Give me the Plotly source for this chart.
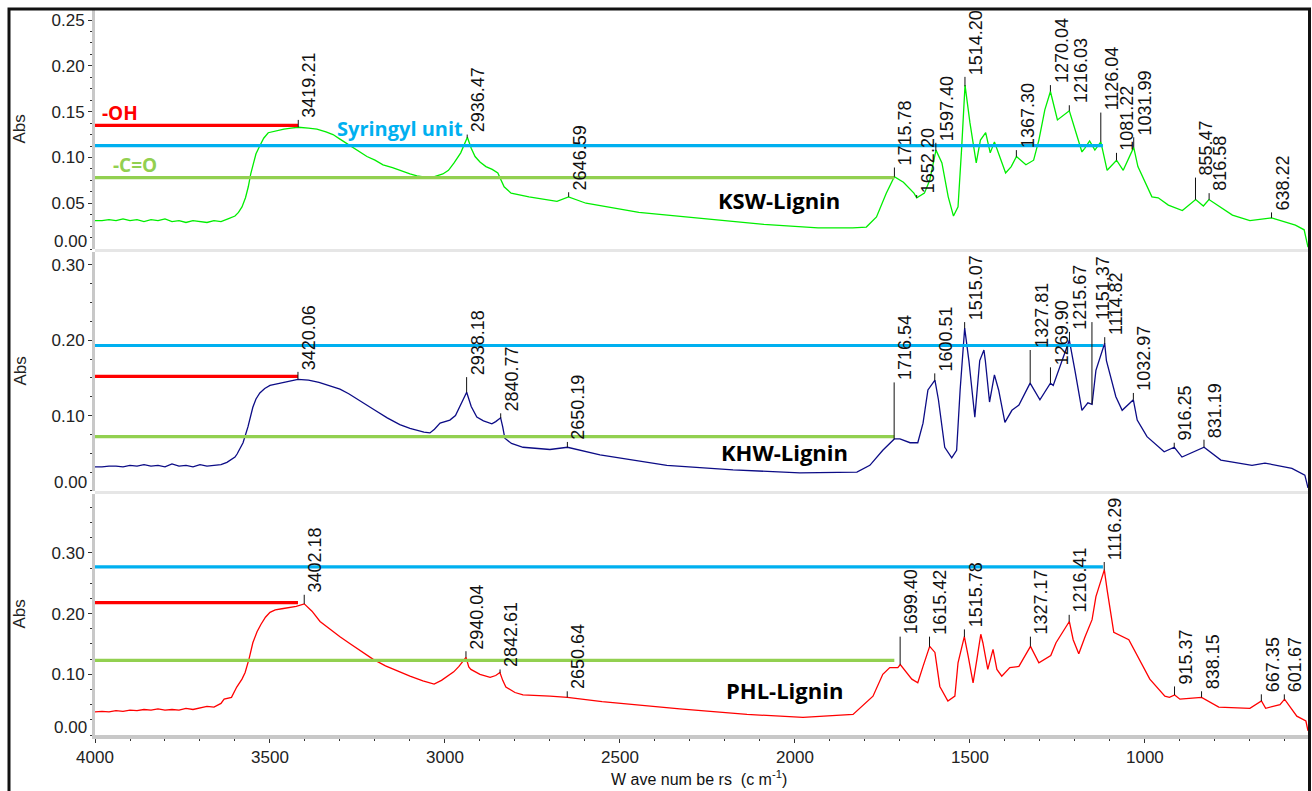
import numpy as np
import plotly.graph_objects as go

# ---------------- DATA ----------------
ksw_wn = [4000, 3980, 3960, 3940, 3920, 3900, 3880, 3860, 3840, 3820, 3800, 3780, 3760, 3740, 3720, 3700,
          3680, 3660, 3640, 3620, 3600, 3590, 3580, 3570, 3562, 3555, 3548, 3540, 3530, 3518, 3505, 3485,
          3460, 3440, 3419, 3390, 3366, 3340, 3320, 3300, 3280, 3250, 3223, 3200, 3177, 3150, 3129, 3100,
          3080, 3060, 3046, 3030, 3006, 2990, 2974, 2955, 2936, 2925, 2914, 2900, 2883, 2865, 2849, 2831,
          2811, 2760, 2680, 2647, 2597, 2446, 2291, 2089, 1934, 1835, 1796, 1767, 1739, 1716, 1690, 1660,
          1652, 1630, 1615, 1597, 1580, 1562, 1547, 1534, 1524, 1514, 1500, 1482, 1470, 1455, 1442, 1430,
          1415, 1398, 1382, 1367, 1340, 1318, 1303, 1286, 1270, 1250, 1216, 1180, 1172, 1158, 1143, 1126,
          1108, 1081, 1062, 1032, 1020, 980, 962, 933, 893, 855, 833, 817, 750, 700, 638, 570, 545, 534]
ksw_abs = [0.031, 0.031, 0.032, 0.031, 0.033, 0.031, 0.032, 0.030, 0.032, 0.031, 0.033, 0.030, 0.031, 0.029,
           0.031, 0.030, 0.029, 0.031, 0.030, 0.033, 0.036, 0.040, 0.046, 0.056, 0.068, 0.082, 0.094, 0.104,
           0.112, 0.121, 0.127, 0.129, 0.131, 0.132, 0.133, 0.132, 0.131, 0.128, 0.125, 0.120, 0.115, 0.108,
           0.101, 0.097, 0.092, 0.089, 0.086, 0.082, 0.080, 0.079, 0.078, 0.079, 0.082, 0.086, 0.094, 0.105,
           0.122, 0.110, 0.101, 0.095, 0.090, 0.087, 0.083, 0.068, 0.061, 0.057, 0.052, 0.057, 0.050, 0.040,
           0.034, 0.027, 0.023, 0.023, 0.024, 0.035, 0.061, 0.079, 0.073, 0.061, 0.056, 0.061, 0.075, 0.108,
           0.094, 0.057, 0.036, 0.046, 0.108, 0.179, 0.138, 0.094, 0.119, 0.127, 0.105, 0.117, 0.101, 0.083,
           0.090, 0.101, 0.092, 0.097, 0.119, 0.152, 0.172, 0.141, 0.151, 0.106, 0.110, 0.118, 0.108, 0.117,
           0.086, 0.097, 0.086, 0.111, 0.090, 0.057, 0.056, 0.048, 0.042, 0.054, 0.047, 0.054, 0.037, 0.031,
           0.034, 0.026, 0.021, 0.002]

khw_wn = [4000, 3980, 3960, 3940, 3920, 3900, 3880, 3860, 3840, 3820, 3800, 3780, 3760, 3740, 3720, 3700,
          3680, 3660, 3640, 3623, 3600, 3594, 3577, 3563, 3549, 3540, 3529, 3515, 3500, 3480, 3463, 3440,
          3420, 3390, 3360, 3330, 3300, 3275, 3250, 3225, 3200, 3165, 3129, 3100, 3080, 3060, 3043, 3030,
          3014, 2986, 2970, 2960, 2950, 2938, 2925, 2909, 2890, 2866, 2855, 2841, 2835, 2829, 2810, 2777,
          2700, 2650, 2557, 2366, 2177, 1986, 1823, 1786, 1749, 1716, 1700, 1671, 1649, 1634, 1620, 1600,
          1590, 1572, 1552, 1538, 1528, 1515, 1503, 1486, 1472, 1460, 1456, 1452, 1444, 1430, 1418, 1400,
          1380, 1360, 1328, 1300, 1270, 1262, 1216, 1200, 1180, 1163, 1151, 1140, 1115, 1110, 1083, 1065,
          1033, 1022, 994, 945, 916, 894, 831, 783, 694, 657, 580, 543, 534]
khw_abs = [0.032, 0.032, 0.033, 0.033, 0.032, 0.034, 0.033, 0.035, 0.033, 0.034, 0.032, 0.036, 0.033, 0.034,
           0.032, 0.035, 0.033, 0.034, 0.035, 0.038, 0.045, 0.049, 0.064, 0.085, 0.111, 0.122, 0.130, 0.136,
           0.140, 0.142, 0.144, 0.146, 0.148, 0.147, 0.144, 0.140, 0.135, 0.129, 0.122, 0.114, 0.107, 0.097,
           0.088, 0.083, 0.080, 0.078, 0.077, 0.082, 0.090, 0.094, 0.100, 0.110, 0.120, 0.131, 0.112, 0.098,
           0.093, 0.089, 0.092, 0.097, 0.085, 0.070, 0.063, 0.058, 0.055, 0.058, 0.048, 0.034, 0.028, 0.024,
           0.025, 0.034, 0.054, 0.069, 0.069, 0.064, 0.064, 0.090, 0.134, 0.147, 0.121, 0.058, 0.044, 0.054,
           0.134, 0.216, 0.173, 0.098, 0.173, 0.187, 0.173, 0.156, 0.118, 0.154, 0.134, 0.091, 0.107, 0.114,
           0.143, 0.121, 0.143, 0.140, 0.200, 0.160, 0.107, 0.117, 0.115, 0.160, 0.196, 0.173, 0.125, 0.107,
           0.121, 0.094, 0.072, 0.052, 0.058, 0.045, 0.058, 0.041, 0.034, 0.037, 0.030, 0.021, 0.004]

phl_wn = [4000, 3980, 3960, 3940, 3920, 3900, 3880, 3860, 3840, 3820, 3800, 3780, 3760, 3740, 3720, 3700,
          3680, 3660, 3640, 3631, 3610, 3595, 3580, 3571, 3560, 3549, 3537, 3526, 3513, 3500, 3485, 3466,
          3443, 3425, 3402, 3380, 3357, 3330, 3300, 3270, 3240, 3206, 3170, 3134, 3100, 3063, 3031, 3010,
          2991, 2975, 2960, 2940, 2932, 2926, 2900, 2871, 2855, 2843, 2835, 2826, 2800, 2777, 2700, 2650,
          2551, 2423, 2329, 2137, 1977, 1834, 1814, 1777, 1749, 1729, 1706, 1699, 1666, 1649, 1634, 1615,
          1600, 1586, 1563, 1543, 1534, 1516, 1505, 1491, 1480, 1469, 1463, 1449, 1434, 1423, 1409, 1386,
          1360, 1327, 1303, 1269, 1254, 1216, 1205, 1189, 1171, 1151, 1140, 1116, 1108, 1089, 1046, 1017,
          986, 943, 930, 915, 900, 838, 789, 700, 667, 655, 614, 601, 566, 540, 534]
phl_abs = [0.038, 0.039, 0.038, 0.040, 0.039, 0.041, 0.040, 0.042, 0.041, 0.043, 0.041, 0.042, 0.041, 0.044,
           0.042, 0.044, 0.047, 0.046, 0.052, 0.059, 0.062, 0.079, 0.092, 0.103, 0.125, 0.152, 0.170, 0.182,
           0.194, 0.202, 0.206, 0.208, 0.210, 0.212, 0.216, 0.204, 0.187, 0.175, 0.162, 0.150, 0.138, 0.125,
           0.114, 0.105, 0.097, 0.089, 0.084, 0.090, 0.097, 0.104, 0.113, 0.128, 0.112, 0.108, 0.100, 0.095,
           0.098, 0.103, 0.090, 0.079, 0.070, 0.066, 0.064, 0.062, 0.055, 0.048, 0.043, 0.034, 0.029, 0.034,
           0.045, 0.064, 0.100, 0.111, 0.111, 0.116, 0.092, 0.086, 0.113, 0.146, 0.136, 0.080, 0.056, 0.064,
           0.119, 0.162, 0.130, 0.086, 0.125, 0.166, 0.152, 0.108, 0.141, 0.108, 0.097, 0.111, 0.113, 0.146,
           0.119, 0.131, 0.152, 0.187, 0.157, 0.134, 0.162, 0.190, 0.228, 0.272, 0.239, 0.169, 0.157, 0.125,
           0.092, 0.064, 0.062, 0.066, 0.059, 0.062, 0.046, 0.044, 0.056, 0.044, 0.050, 0.059, 0.031, 0.023,
           0.007]

ksw_peaks = ["3419.21", "2936.47", "2646.59", "1715.78", "1652.20", "1597.40", "1514.20", "1367.30",
             "1270.04", "1216.03", "1126.04", "1081.22", "1031.99", "855.47", "816.58", "638.22"]
khw_peaks = ["3420.06", "2938.18", "2840.77", "2650.19", "1716.54", "1600.51", "1515.07", "1327.81",
             "1269.90", "1215.67", "1151.37", "1114.82", "1032.97", "916.25", "831.19"]
phl_peaks = ["3402.18", "2940.04", "2842.61", "2650.64", "1699.40", "1615.42", "1515.78", "1327.17",
             "1216.41", "1116.29", "915.37", "838.15", "667.35", "601.67"]

band_names = ["-OH", "Syringyl unit", "-C=O"]
band_levels_ksw = [0.135, 0.113, 0.078]
band_levels_khw = [0.152, 0.193, 0.072]
band_levels_phl = [0.218, 0.277, 0.123]
band_ends = [3420, 1120, 1716]

sample_names = ["KSW-Lignin", "KHW-Lignin", "PHL-Lignin"]

# ---------------- LAYOUT / STYLE ----------------
W, H = 1312, 791
ML, MR, MT, MB = 95, 4, 10, 56
PW, PH = W - ML - MR, H - MT - MB


def px_x(p):
    return (p - ML) / PW


def px_y(p):
    return (H - MB - p) / PH


# label bottoms (abs units) for each peak label, per panel
ksw_label_base = [0.141, 0.125, 0.062, 0.089, 0.059, 0.116, 0.188, 0.108, 0.179, 0.157, 0.149, 0.105,
                  0.122, 0.078, 0.061, 0.040]
khw_label_base = [0.158, 0.151, 0.103, 0.065, 0.144, 0.156, 0.224, 0.187, 0.164, 0.211, 0.224, 0.204,
                  0.130, 0.064, 0.068]
phl_label_base = [0.231, 0.138, 0.108, 0.072, 0.162, 0.162, 0.174, 0.162, 0.198, 0.285, 0.080, 0.072,
                  0.067, 0.067]

panels = [
    dict(wn=ksw_wn, ab=ksw_abs, color="#00ee00", yref="y", domain=[0.6703, 1.0], rng=[0, 0.261],
         dtick=0.05, minor=0.0125, peaks=ksw_peaks, base=ksw_label_base, bands=band_levels_ksw,
         name=sample_names[0], name_pos=(2045, 0.054)),
    dict(wn=khw_wn, ab=khw_abs, color="#0c0c86", yref="y2", domain=[0.3366, 0.6662], rng=[0, 0.317],
         dtick=0.1, minor=0.025, peaks=khw_peaks, base=khw_label_base, bands=band_levels_khw,
         name=sample_names[1], name_pos=(2030, 0.052)),
    dict(wn=phl_wn, ab=phl_abs, color="#ff0000", yref="y3", domain=[0.0, 0.3324], rng=[0, 0.397],
         dtick=0.1, minor=0.025, peaks=phl_peaks, base=phl_label_base, bands=band_levels_phl,
         name=sample_names[2], name_pos=(2030, 0.074)),
]

band_colors = ["#ff0000", "#00b0f0", "#92d050"]
LABEL_FONT = dict(family="Liberation Sans, Arial", size=18, color="#111111")
TICK_FONT = dict(family="Liberation Sans, Arial", size=17, color="#222222")

fig = go.Figure()
shapes = []
annotations = []

for i, p in enumerate(panels):
    fig.add_trace(go.Scatter(x=p["wn"], y=p["ab"], mode="lines", xaxis="x", yaxis=p["yref"],
                             line=dict(color=p["color"], width=1.3), showlegend=False,
                             hoverinfo="skip"))
    xs = np.array(p["wn"][::-1], dtype=float)
    ys = np.array(p["ab"][::-1], dtype=float)
    # band marker lines
    for k in range(3):
        shapes.append(dict(type="line", xref="x", yref=p["yref"], x0=4000, x1=band_ends[k],
                           y0=p["bands"][k], y1=p["bands"][k],
                           line=dict(color=band_colors[k], width=3.2), layer="above"))
    # peak labels with leader ticks
    for lab, b in zip(p["peaks"], p["base"]):
        w = float(lab)
        yv = float(np.interp(w, xs, ys))
        shapes.append(dict(type="line", xref="x", yref=p["yref"], x0=w, x1=w, y0=yv, y1=b,
                           line=dict(color="#111111", width=1), layer="above"))
        annotations.append(dict(x=w, y=b, xref="x", yref=p["yref"], text=lab, textangle=-90,
                                showarrow=False, xanchor="center", yanchor="bottom", xshift=11,
                                font=LABEL_FONT))
    # sample name
    annotations.append(dict(x=p["name_pos"][0], y=p["name_pos"][1], xref="x", yref=p["yref"],
                            text="<b>%s</b>" % p["name"], showarrow=False, xanchor="center",
                            yanchor="middle",
                            font=dict(family="Open Sans", size=22, color="#000000")))
    # y title
    annotations.append(dict(x=px_x(20), y=(p["domain"][0] + p["domain"][1]) / 2, xref="paper",
                            yref="paper", text="Abs", textangle=-90, showarrow=False,
                            xanchor="center", yanchor="middle",
                            font=dict(family="Liberation Sans, Arial", size=17, color="#222222")))
    # "0.00" tick label, drawn slightly above the panel floor as in the reference
    annotations.append(dict(x=px_x(89), y=p["domain"][0], xref="paper", yref="paper", text="0.00",
                            showarrow=False, xanchor="right", yanchor="middle", yshift=8,
                            font=TICK_FONT))

# band names (top panel)
annotations.append(dict(x=3929, y=0.149, xref="x", yref="y", text="<b>-OH</b>", showarrow=False,
                        xanchor="center", yanchor="middle",
                        font=dict(family="Open Sans", size=19, color="#ff0000")))
annotations.append(dict(x=3129, y=0.132, xref="x", yref="y", text="<b>Syringyl unit</b>",
                        showarrow=False, xanchor="center", yanchor="middle",
                        font=dict(family="Open Sans", size=20, color="#00b0f0")))
annotations.append(dict(x=3886, y=0.092, xref="x", yref="y", text="<b>-C=O</b>", showarrow=False,
                        xanchor="center", yanchor="middle",
                        font=dict(family="Open Sans", size=19, color="#92d050")))

# x title
annotations.append(dict(x=px_x(699), y=px_y(778), xref="paper", yref="paper",
                        text="W ave num be rs  (c m<sup>-1</sup>)", showarrow=False,
                        xanchor="center", yanchor="middle",
                        font=dict(family="Liberation Sans, Arial", size=16, color="#111111")))

# panel separators
for d in (panels[0]["domain"][0], panels[1]["domain"][0]):
    shapes.append(dict(type="line", xref="paper", yref="paper", x0=0, x1=1, y0=d - 0.002, y1=d - 0.002,
                       line=dict(color="#e6e6e6", width=3), layer="below"))

# outer frame
shapes.append(dict(type="rect", xref="paper", yref="paper", x0=px_x(9), x1=px_x(1309.5),
                   y0=px_y(800), y1=px_y(9), line=dict(color="#111111", width=3),
                   fillcolor="rgba(0,0,0,0)", layer="above"))

axis_common = dict(showline=True, linecolor="#c8c8c8", linewidth=3, ticks="outside", ticklen=4,
                   tickcolor="#333333", tickwidth=1, showgrid=False, zeroline=False,
                   tickfont=TICK_FONT, fixedrange=True)

layout = dict(
    width=W, height=H, margin=dict(l=ML, r=MR, t=MT, b=MB),
    paper_bgcolor="white", plot_bgcolor="white",
    xaxis=dict(range=[4000, 534], domain=[0, 1], anchor="y3", dtick=500, tick0=0,
               minor=dict(ticks="outside", ticklen=2, dtick=100, tick0=0, tickcolor="#333333"),
               **{**axis_common, "linewidth": 4}),
    shapes=shapes, annotations=annotations,
)
for i, p in enumerate(panels):
    key = "yaxis" if i == 0 else "yaxis%d" % (i + 1)
    vals = [round(v, 4) for v in np.arange(p["dtick"], p["rng"][1], p["dtick"])]
    layout[key] = dict(domain=p["domain"], range=p["rng"], anchor="x",
                       tickmode="array", tickvals=vals,
                       ticktext=["%.2f" % v for v in vals],
                       minor=dict(ticks="outside", ticklen=2, dtick=p["minor"], tick0=0,
                                  tickcolor="#333333"),
                       **axis_common)

fig.update_layout(**layout)
fig.write_html("out.html")
